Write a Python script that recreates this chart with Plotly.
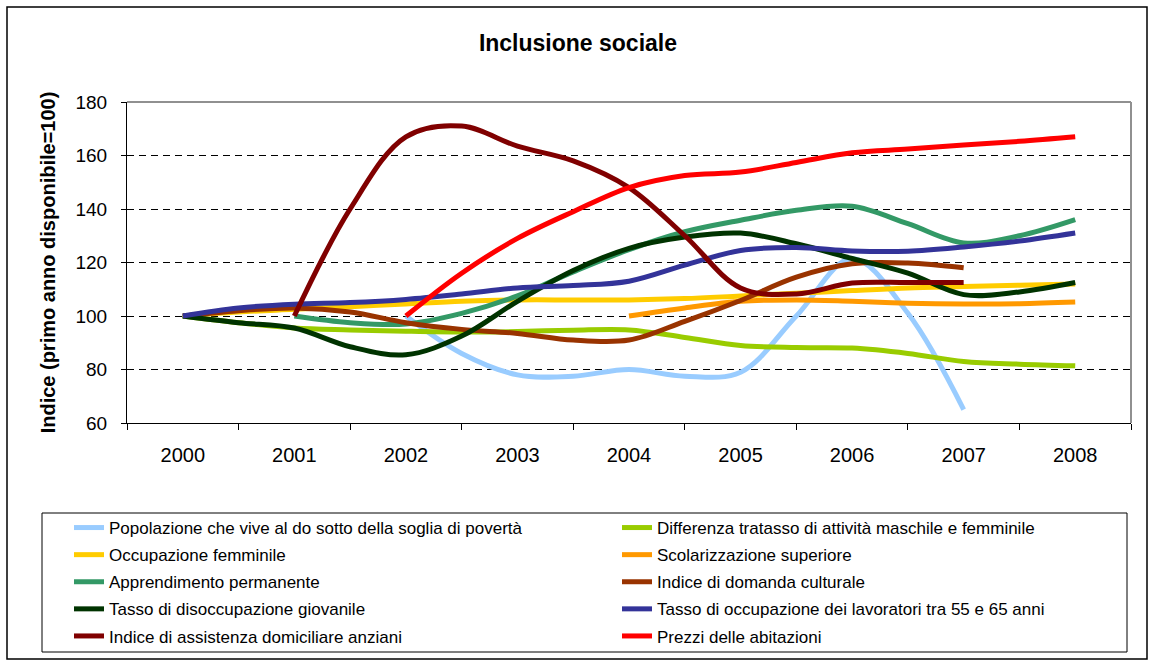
import plotly.graph_objects as go

# half-year positions 2000 .. 2008
periods = [2000 + 0.5 * i for i in range(17)]
year_labels = ["2000", "2001", "2002", "2003", "2004", "2005", "2006", "2007", "2008"]
years = [int(y) for y in year_labels]

poverta = [None, None, None, None, 100, 86, 78, 77.5, 80, 77.5, 79, 100, 121.5, 101, 65, None, None]
diff_attivita = [100, 97.5, 95.5, 94.8, 94.3, 94, 94.2, 94.7, 94.8, 92, 89, 88.2, 88, 86, 83, 82, 81.4]
occ_femminile = [100, 101.5, 102.5, 103.5, 104.5, 105.5, 106, 106, 106, 106.5, 107.5, 108.5, 109.5, 110.5, 111, 111.5, 112]
scolarizzazione = [None, None, None, None, None, None, None, None, 100, 103, 105.5, 106, 105.5, 104.8, 104.5, 104.6, 105.2]
apprendimento = [None, None, 100, 97.5, 97, 101, 107.5, 116.5, 124.8, 131.5, 135.8, 139.5, 141, 134.5, 127.3, 130, 136]
domanda_cult = [100, 102, 103, 101.5, 97.5, 95, 93.5, 91, 91, 98, 105.8, 114.5, 119.5, 119.8, 118, None, None]
disocc_giov = [100, 97.5, 95.5, 88.5, 85.5, 92.5, 105.5, 117, 125.3, 129.5, 131, 127, 121.5, 116, 108, 109, 112.5]
occ_55_65 = [100, 103, 104.4, 105, 106.2, 108.2, 110.5, 111.4, 113, 119, 124.5, 125.6, 124.3, 124.2, 125.8, 128, 131]
assistenza = [None, None, 100, 140, 167, 171, 163.5, 158, 148, 130, 110.5, 108.2, 112.3, 112.5, 112.5, None, None]
prezzi = [None, None, None, None, 100, 116, 129, 139, 148, 152.5, 153.8, 157.4, 161, 162.4, 163.9, 165.3, 167]

series = [
    ("Popolazione che vive al do sotto della soglia di povertà", poverta, "#99CCFF", "legend"),
    ("Differenza tratasso di attività maschile e femminile", diff_attivita, "#99CC00", "legend2"),
    ("Occupazione femminile", occ_femminile, "#FFCC00", "legend"),
    ("Scolarizzazione superiore", scolarizzazione, "#FF9900", "legend2"),
    ("Apprendimento permanente", apprendimento, "#339966", "legend"),
    ("Indice di domanda culturale", domanda_cult, "#993300", "legend2"),
    ("Tasso di disoccupazione giovanile", disocc_giov, "#003300", "legend"),
    ("Tasso di occupazione dei lavoratori tra 55 e 65 anni", occ_55_65, "#333399", "legend2"),
    ("Indice di assistenza domiciliare anziani", assistenza, "#800000", "legend"),
    ("Prezzi delle abitazioni", prezzi, "#FF0000", "legend2"),
]

FONT = "Liberation Sans, Arial, sans-serif"
W, H = 1149, 666
PL, PR, PT, PB = 127, 1131, 102, 423  # plot area in pixels


def px_x(px):
    return (px - PL) / (PR - PL)


def px_y(py):
    return (PB - py) / (PB - PT)


fig = go.Figure()
for i, (name, vals, color, leg) in enumerate(series):
    fig.add_trace(go.Scatter(
        x=periods,
        y=vals,
        mode="lines",
        name=name,
        line=dict(color=color, width=5, shape="spline", smoothing=1.0),
        legend=leg,
        legendgroup=f"g{i}",
    ))

legend_common = dict(
    orientation="v",
    xanchor="left",
    yanchor="top",
    y=px_y(510),
    bgcolor="rgba(0,0,0,0)",
    borderwidth=0,
    tracegroupgap=2,
    font=dict(family=FONT, size=17, color="black"),
    itemclick=False,
    itemdoubleclick=False,
)

fig.update_layout(
    width=W,
    height=H,
    paper_bgcolor="white",
    plot_bgcolor="white",
    margin=dict(l=PL, r=W - PR, t=PT, b=H - PB),
    title=dict(
        text="<b>Inclusione sociale</b>",
        x=0.503, xref="container", xanchor="center",
        y=1 - 43 / H, yref="container", yanchor="middle",
        font=dict(family=FONT, size=23, color="black"),
    ),
    font=dict(family=FONT, color="black"),
    legend=dict(x=px_x(69), **legend_common),
    legend2=dict(x=px_x(617), **legend_common),
    xaxis=dict(
        range=[1999.5, 2008.5],
        tickmode="array",
        tickvals=years,
        ticktext=year_labels,
        ticks="",
        ticklabelstandoff=14,
        tickfont=dict(family=FONT, size=20, color="black"),
        showgrid=False,
        zeroline=False,
        showline=True,
        linecolor="black",
        linewidth=1,
        minor=dict(
            tickmode="array",
            tickvals=[1999.5 + k for k in range(10)],
            ticks="outside",
            ticklen=6,
            tickcolor="black",
            tickwidth=1,
            showgrid=False,
        ),
    ),
    yaxis=dict(
        range=[60, 180],
        dtick=20,
        ticks="outside",
        ticklen=5,
        tickcolor="black",
        ticklabelstandoff=10,
        tickfont=dict(family=FONT, size=19, color="black"),
        showgrid=True,
        gridcolor="black",
        gridwidth=1,
        griddash="7px,5px",
        zeroline=False,
        showline=True,
        linecolor="black",
        linewidth=1,
        title=dict(
            text="<b>Indice (primo anno disponibile=100)</b>",
            font=dict(family=FONT, size=20, color="black"),
            standoff=14,
        ),
    ),
    shapes=[
        # plot area top and right border (gray)
        dict(type="line", xref="paper", yref="paper", x0=0, x1=1, y0=1, y1=1,
             line=dict(color="#909090", width=2), layer="above"),
        dict(type="line", xref="paper", yref="paper", x0=1, x1=1, y0=0, y1=1,
             line=dict(color="#909090", width=2), layer="above"),
        # legend box
        dict(type="rect", xref="paper", yref="paper",
             x0=px_x(42), x1=px_x(1127), y0=px_y(652), y1=px_y(513),
             line=dict(color="black", width=1)),
        # outer chart border
        dict(type="rect", xref="paper", yref="paper",
             x0=px_x(7), x1=px_x(1147), y0=px_y(659), y1=px_y(7),
             line=dict(color="black", width=1.5)),
    ],
)

fig.write_html(
    "out.html",
    config={"displayModeBar": False},
    post_script="document.body.style.margin='0';",
)
